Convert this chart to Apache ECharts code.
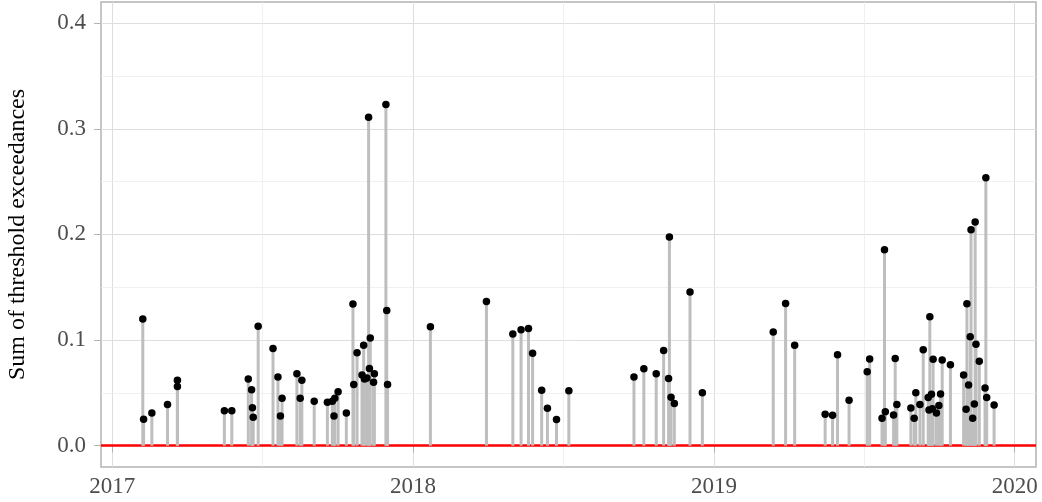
<!DOCTYPE html>
<html>
<head>
<meta charset="utf-8">
<script src="https://cdn.jsdelivr.net/npm/echarts@6/dist/echarts.min.js"></script>
<style>
  html, body { margin: 0; padding: 0; background: #fff; }
  #chart { width: 1042px; height: 502px; }
</style>
</head>
<body>
<div id="chart"></div>
<script>
// dates of the events and their summed exceedances
const eventDates = [
  '2017-02-07', '2017-02-08', '2017-02-18', '2017-03-09', '2017-03-21', '2017-03-21',
  '2017-05-17', '2017-05-26', '2017-06-15', '2017-06-19', '2017-06-20', '2017-06-21',
  '2017-06-27', '2017-07-15', '2017-07-21', '2017-07-24', '2017-07-26', '2017-08-13',
  '2017-08-17', '2017-08-19', '2017-09-03', '2017-09-19', '2017-09-25', '2017-09-27',
  '2017-09-28', '2017-10-02', '2017-10-12', '2017-10-20', '2017-10-21', '2017-10-25',
  '2017-10-31', '2017-11-02', '2017-11-03', '2017-11-06', '2017-11-08', '2017-11-09',
  '2017-11-10', '2017-11-14', '2017-11-15', '2017-11-29', '2017-11-30', '2017-12-01',
  '2018-01-22', '2018-03-31', '2018-05-02', '2018-05-12', '2018-05-21', '2018-05-26',
  '2018-06-06', '2018-06-13', '2018-06-24', '2018-07-09', '2018-09-26', '2018-10-08',
  '2018-10-23', '2018-11-01', '2018-11-07', '2018-11-08', '2018-11-10', '2018-11-14',
  '2018-12-03', '2018-12-18', '2019-03-14', '2019-03-29', '2019-04-09', '2019-05-16',
  '2019-05-25', '2019-05-31', '2019-06-14', '2019-07-06', '2019-07-09', '2019-07-24',
  '2019-07-27', '2019-07-28', '2019-08-07', '2019-08-09', '2019-08-11', '2019-08-28',
  '2019-09-01', '2019-09-03', '2019-09-08', '2019-09-12', '2019-09-18', '2019-09-19',
  '2019-09-20', '2019-09-22', '2019-09-23', '2019-09-24', '2019-09-28', '2019-10-01',
  '2019-10-03', '2019-10-05', '2019-10-15', '2019-10-31', '2019-11-03', '2019-11-04',
  '2019-11-06', '2019-11-08', '2019-11-09', '2019-11-11', '2019-11-13', '2019-11-14',
  '2019-11-15', '2019-11-19', '2019-11-26', '2019-11-27', '2019-11-28', '2019-12-07'
];
const exceedance = [
  0.120, 0.025, 0.031, 0.039, 0.062, 0.056,
  0.033, 0.033, 0.063, 0.053, 0.036, 0.027,
  0.113, 0.092, 0.065, 0.028, 0.045, 0.068,
  0.045, 0.062, 0.042, 0.041, 0.042, 0.028,
  0.045, 0.051, 0.031, 0.134, 0.058, 0.088,
  0.067, 0.095, 0.063, 0.064, 0.311, 0.073,
  0.102, 0.060, 0.068, 0.323, 0.128, 0.058,
  0.1125, 0.1365, 0.1056, 0.1097, 0.111, 0.0876,
  0.0525, 0.0354, 0.0247, 0.052, 0.065, 0.0727,
  0.068, 0.090, 0.0635, 0.1975, 0.0459, 0.040,
  0.1454, 0.050, 0.1075, 0.1346, 0.0951, 0.0297,
  0.0288, 0.086, 0.043, 0.070, 0.082, 0.026,
  0.1855, 0.032, 0.029, 0.0825, 0.039, 0.0357,
  0.026, 0.050, 0.039, 0.0907, 0.0455, 0.0338,
  0.122, 0.0487, 0.035, 0.0819, 0.031, 0.038,
  0.049, 0.081, 0.0765, 0.067, 0.0345, 0.1343,
  0.0575, 0.103, 0.2045, 0.026, 0.0395, 0.2117,
  0.096, 0.080, 0.0547, 0.2537, 0.0455, 0.0386
];

const yearTicks = ['2017-01-01', '2018-01-01', '2019-01-01', '2020-01-01'];
const yTicks = [0, 0.1, 0.2, 0.3, 0.4];
const yMinor = [0.05, 0.15, 0.25, 0.35];

const parseT = s => +echarts.time.parse(s);
const yearValues = yearTicks.map(parseT);
// minor x grid halfway between the years, like ggplot
const xMinor = [];
for (let i = 0; i < yearValues.length - 1; i++) {
  xMinor.push((yearValues[i] + yearValues[i + 1]) / 2);
}

const stems = eventDates.map((d, i) => [parseT(d), exceedance[i]]);

const font = 'Liberation Serif';
const chart = echarts.init(document.getElementById('chart'), null, { renderer: 'canvas' });

const option = {
  animation: false,
  backgroundColor: '#fff',
  grid: {
    left: 101, right: 6, top: 2, bottom: 35,
    outerBoundsMode: 'none',
    containLabel: false,
    show: true,
    borderColor: '#b3b3b3',
    borderWidth: 1.5,
    backgroundColor: 'transparent'
  },
  xAxis: {
    type: 'value',
    min: parseT('2016-12-18 07:00'),
    max: parseT('2020-01-26 20:00'),
    axisLine: { show: false },
    axisTick: {
      show: true, length: 7, customValues: yearValues,
      lineStyle: { color: '#b3b3b3', width: 1 }
    },
    axisLabel: {
      customValues: yearValues,
      formatter: v => echarts.time.format(v, '{yyyy}', false),
      color: '#4d4d4d', fontFamily: font, fontSize: 23, margin: 8
    },
    splitLine: { show: true, lineStyle: { color: '#dedede', width: 1 } }
  },
  yAxis: {
    type: 'value',
    min: -0.0202,
    max: 0.42,
    name: 'Sum of threshold exceedances',
    nameLocation: 'middle',
    nameRotate: 90,
    nameGap: 71,
    nameTextStyle: { color: '#000', fontFamily: font, fontSize: 24 },
    axisLine: { show: false },
    axisTick: {
      show: true, length: 7, customValues: yTicks,
      lineStyle: { color: '#b3b3b3', width: 1 }
    },
    axisLabel: {
      customValues: yTicks,
      formatter: v => v.toFixed(1),
      color: '#4d4d4d', fontFamily: font, fontSize: 23, margin: 15
    },
    splitLine: { show: true, lineStyle: { color: '#dedede', width: 1 } }
  },
  series: [
    {
      // minor grid lines, kept on the bottom layer
      type: 'line',
      data: [],
      zlevel: 0,
      z: 1,
      silent: true,
      markLine: {
        silent: true,
        symbol: 'none',
        label: { show: false },
        lineStyle: { color: '#ececec', width: 0.8, type: 'solid' },
        data: yMinor.map(v => ({ yAxis: v })).concat(xMinor.map(v => ({ xAxis: v })))
      }
    },
    {
      type: 'bar',
      data: stems,
      barWidth: 3,
      itemStyle: { color: '#bebebe' },
      zlevel: 1,
      z: 2
    },
    {
      type: 'scatter',
      data: stems,
      symbolSize: 7.5,
      itemStyle: { color: '#000', opacity: 1 },
      zlevel: 1,
      z: 3,
      markLine: {
        silent: true,
        symbol: 'none',
        label: { show: false },
        lineStyle: { color: '#ff0000', width: 2.5, type: 'solid' },
        data: [{ yAxis: 0 }]
      }
    }
  ]
};

chart.setOption(option);
</script>
</body>
</html>
